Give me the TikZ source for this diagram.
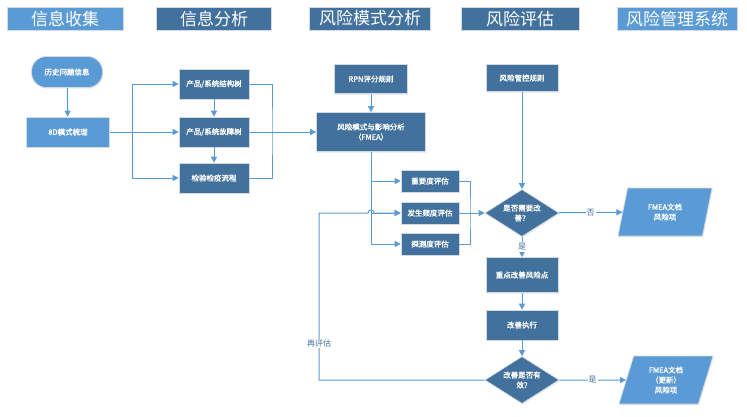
\documentclass[tikz,border=0pt]{standalone}
\usepackage{fontspec}
\setmainfont{Noto Sans CJK SC}[AutoFakeBold=1.6]
\usetikzlibrary{arrows.meta,shapes.geometric,shadows,calc}
\definecolor{deep}{HTML}{41719C}
\definecolor{sky}{HTML}{5B9BD5}
\definecolor{wireblue}{HTML}{5B9BD5}
\definecolor{rim}{HTML}{D3DAE2}

\begin{document}
\begin{tikzpicture}[x=1pt,y=-1pt,
 stage/.style={draw=rim,line width=0.8pt,text=white,inner sep=0pt,minimum height=23pt,
   font=\fontsize{17}{17}\selectfont,drop shadow={opacity=.15,shadow xshift=.8pt,shadow yshift=-1.2pt}},
 stagelight/.style={stage,fill=sky},
 stagedark/.style={stage,fill=deep},
 task/.style={draw=rim,line width=0.6pt,fill=deep,text=white,inner sep=1pt,align=center,
   minimum width=72pt,minimum height=30pt,font=\fontsize{7.5}{10}\selectfont\bfseries,
   drop shadow={opacity=.15,shadow xshift=.8pt,shadow yshift=-1.2pt}},
 source/.style={task,fill=sky,rounded corners=15pt},
 gate/.style={task,diamond,aspect=1.6,inner sep=0pt,minimum width=74pt,minimum height=47pt},
 record/.style={task,fill=sky,trapezium,trapezium left angle=63,trapezium right angle=117,
   trapezium stretches body,minimum width=94pt,minimum height=48pt},
 flow/.style={-{Triangle[length=6pt,width=6pt]},draw=wireblue,line width=1pt},
 link/.style={draw=wireblue,line width=1pt},
 verdict/.style={font=\fontsize{8}{9}\selectfont,text=deep,fill=white,inner sep=1pt}
]
\path[fill=white] (0,0) rectangle (747,416);
\node[stagelight,minimum width=116pt] (hdcollect) at (65,18.5) {信息收集};
\node[stagedark,minimum width=115pt] (hdanalysis) at (214,18.5) {信息分析};
\node[stagedark,minimum width=121pt] (hdmode) at (370,18.5) {风险模式分析};
\node[stagedark,minimum width=118pt] (hdassess) at (520,18.5) {风险评估};
\node[stagelight,minimum width=120pt] (hdsystem) at (677,18.5) {风险管理系统};
\node[source,minimum width=71pt,minimum height=31pt] (history) at (67,72) {历史问题信息};
\node[task,fill=sky,minimum width=83pt] (eightd) at (68,132) {8D模式梳理};
\node[task,minimum width=70pt] (structtree) at (214,84) {产品/系统结构树};
\node[task,minimum width=70pt] (faulttree) at (214,132) {产品/系统故障树};
\node[task,minimum width=70pt] (inspect) at (214,178) {检验检疫流程};
\node[task,minimum width=73pt,minimum height=29pt] (rpn) at (371,79) {RPN评分规则};
\node[task,minimum width=109pt,minimum height=39pt] (fmea) at (371,132) {风险模式与影响分析\\（FMEA）};
\node[task,minimum height=27pt] (control) at (522,78) {风险管控规则};
\node[task,minimum width=58pt,minimum height=22pt] (severity) at (430,181) {重要度评估};
\node[task,minimum width=58pt,minimum height=22pt] (occurrence) at (430,213) {发生频度评估};
\node[task,minimum width=58pt,minimum height=22pt] (detection) at (430,244) {探测度评估};
\node[gate] (needfix) at (522,213) {是否需要改\\善？};
\node[record] (riskitem) at (665,212) {FMEA文档\\风险项};
\node[task,minimum height=35pt] (keypoint) at (522,275) {重点改善风险点};
\node[task] (execute) at (522,325) {改善执行};
\node[gate] (effective) at (522,380) {改善是否有\\效?};
\node[record] (updated) at (666,380) {FMEA文档\\（更新）\\风险项};
\coordinate (lbus) at (132,132);
\coordinate (rbus) at (272,132);
\coordinate (sbus) at (fmea.south |- occurrence);
\coordinate (ebus) at (470,213);
\coordinate (loopc) at (319,213);
\draw[flow] (history) -- (eightd);
\draw[flow] (eightd) -- (faulttree);
\draw[flow] (lbus) |- (structtree);
\draw[flow] (lbus) |- (inspect);
\draw[flow] (structtree) -- (faulttree);
\draw[flow] (faulttree) -- (inspect);
\draw[link] (structtree) -| (rbus) |- (inspect);
\draw[flow] (faulttree) -- (fmea);
\draw[flow] (rpn) -- (fmea);
\draw[flow] (fmea) |- (severity);
\draw[flow] (fmea) |- (detection);
\draw[flow] (sbus) -- (occurrence);
\draw[link] (severity) -| (ebus) |- (detection);
\draw[flow] (occurrence) -- (needfix);
\draw[flow] (control) -- (needfix);
\draw[flow] (needfix) -- node[verdict]{否} (riskitem);
\draw[flow] (needfix) -- node[verdict]{是} (keypoint);
\draw[flow] (keypoint) -- (execute);
\draw[flow] (execute) -- (effective);
\draw[flow] (effective) -- node[verdict]{是} (updated);
\draw[flow] (effective) -| node[verdict,pos=.61]{再评估} (loopc)
 -- ($(sbus)+(-3,0)$) arc[start angle=180,end angle=0,radius=3pt] -- (occurrence);
\end{tikzpicture}
\end{document}
